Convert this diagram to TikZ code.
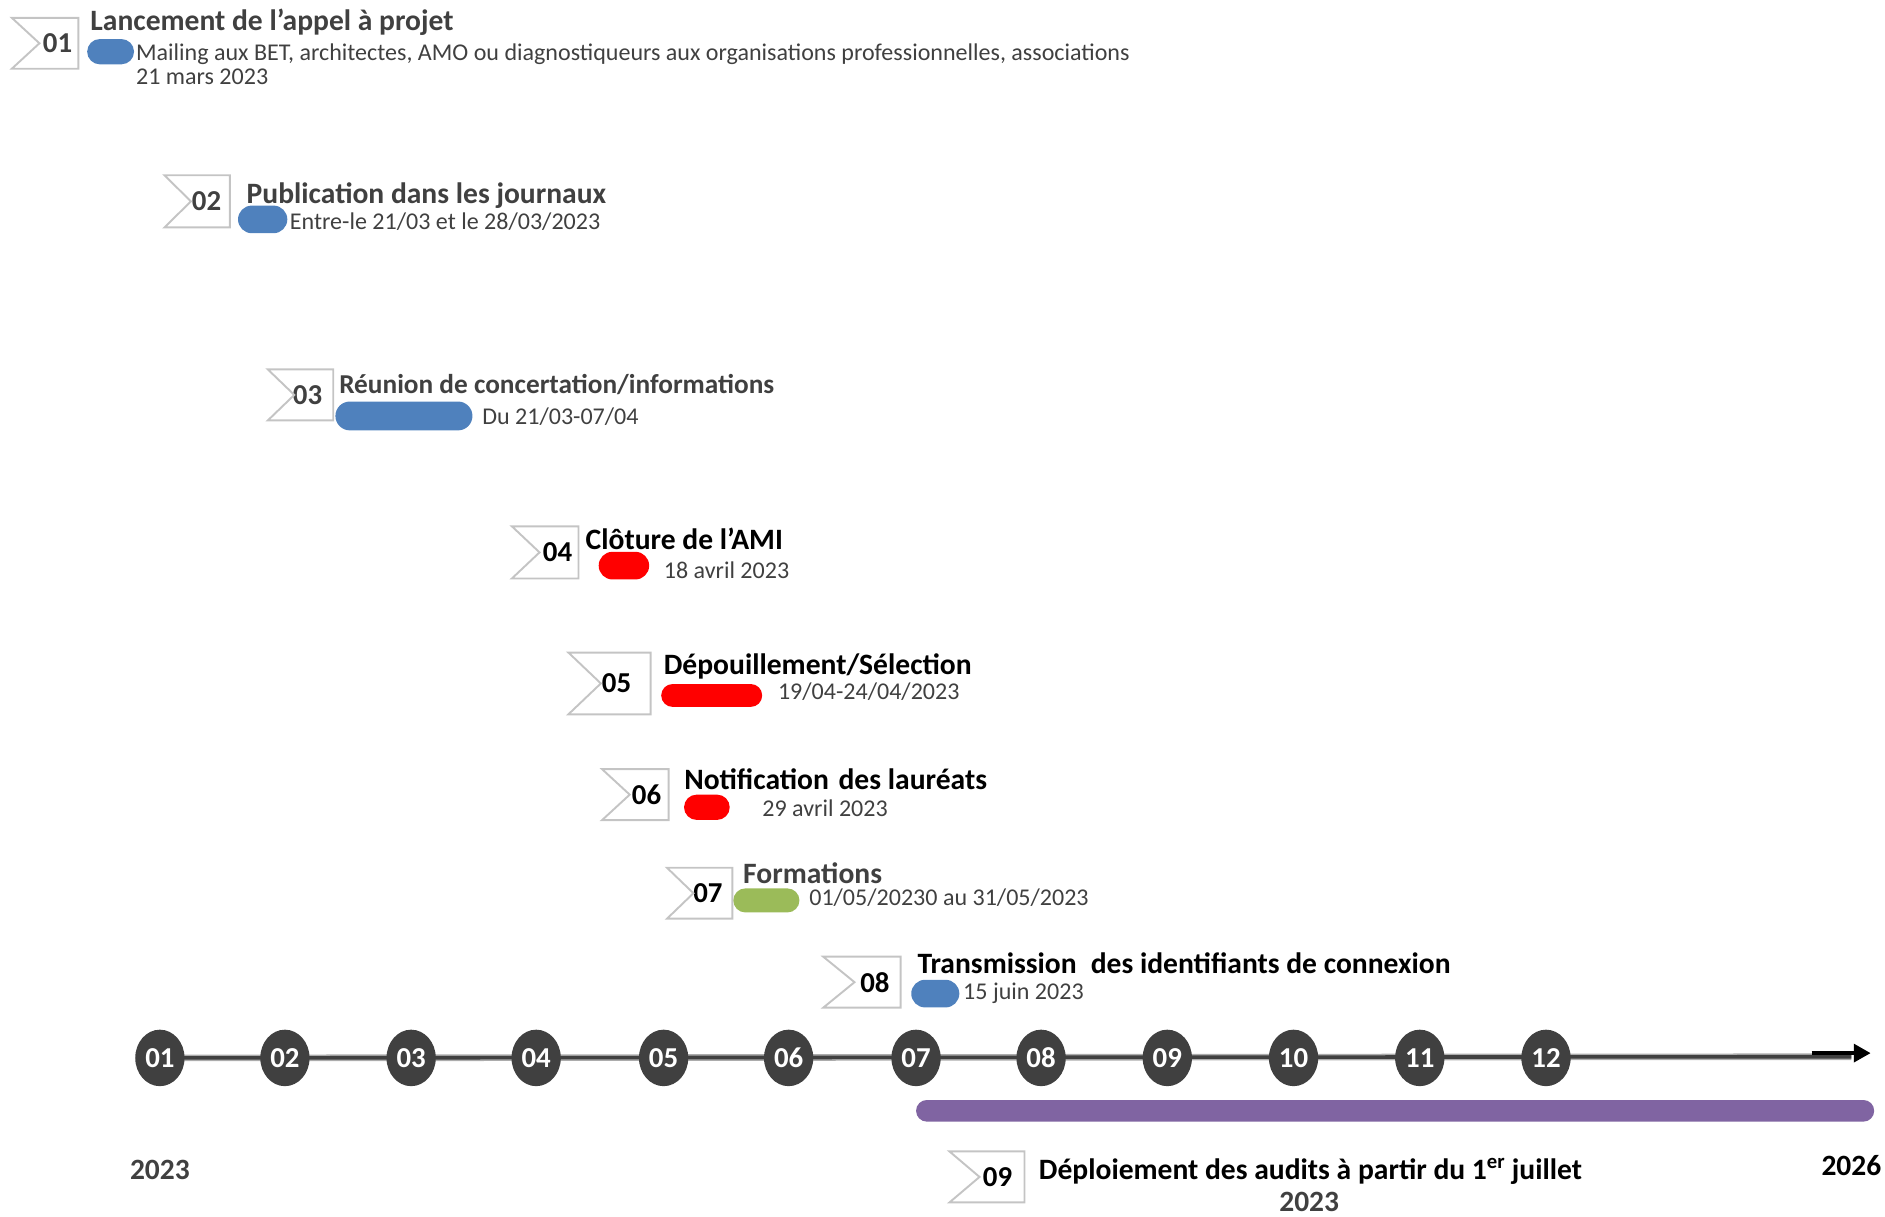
\documentclass[tikz,border=0pt]{standalone}
\usepackage{fontspec}
\setmainfont{Carlito}
\usetikzlibrary{shapes.geometric,shapes.misc,arrows.meta}
\definecolor{dk}{HTML}{404040}
\definecolor{pblue}{HTML}{4F81BD}
\definecolor{pred}{HTML}{FF0000}
\definecolor{pgreen}{HTML}{9BBB59}
\definecolor{ppurple}{HTML}{8064A2}
\definecolor{flg}{HTML}{C4C4C4}
\tikzset{
  ttl/.style={anchor=base west, inner sep=0pt, font=\bfseries\fontsize{24.6}{28}\selectfont},
  sub/.style={anchor=base west, inner sep=0pt, text=dk, font=\fontsize{20}{24}\selectfont},
  pill/.style={rounded rectangle, draw=none, inner sep=0pt},
  flagbox/.style={rectangle, draw=none, inner sep=0pt, align=right, font=\bfseries\fontsize{24}{24}\selectfont},
  flagline/.style={draw=flg, line width=1.6pt, line join=miter},
  tick/.style={ellipse, fill=dk, draw=none, inner sep=0pt, minimum width=41pt, minimum height=47pt, text=white, font=\bfseries\fontsize{24}{24}\selectfont},
  year/.style={anchor=base, inner sep=0pt, font=\bfseries\fontsize{24.5}{28}\selectfont}
}
\begin{document}
\begin{tikzpicture}[x=1pt,y=-1pt]
\useasboundingbox (0,0) rectangle (1568,1012);
% flags (minimum width = flag width, text width = width - 2*right offset)
\node[flagbox, text=dk, minimum height=42pt, minimum width=55pt, text width=45pt] (f1) at (37.5,36) {01};
\node[flagbox, text=dk, minimum height=43pt, minimum width=54pt, text width=40pt] (f2) at (164,167.5) {02};
\node[flagbox, text=dk, minimum height=42pt, minimum width=54pt, text width=36pt] (f3) at (250,328.5) {03};
\node[flagbox, text=black, minimum height=43pt, minimum width=55pt, text width=45pt] (f4) at (453.5,459.5) {04};
\node[flagbox, text=black, minimum height=51pt, minimum width=68pt, text width=36pt] (f5) at (507,568.5) {05};
\node[flagbox, text=black, minimum height=42pt, minimum width=55pt, text width=43pt] (f6) at (528.5,661) {06};
\node[flagbox, text=black, minimum height=42pt, minimum width=54pt, text width=38pt] (f7) at (582,743) {07};
\node[flagbox, text=black, minimum height=42pt, minimum width=64pt, text width=46pt] (f8) at (717,817) {08};
\node[flagbox, text=black, minimum height=42pt, minimum width=62pt, text width=42pt] (f9) at (821,979) {09};
\foreach \f/\d in {f1/23,f2/22,f3/22,f4/23,f5/27,f6/23,f7/22,f8/26,f9/25}
  \draw[flagline] (\f.north west) -- (\f.north east) -- (\f.south east) -- (\f.south west) -- ([xshift=\d]\f.west) -- cycle;
% titles
\node[ttl, text=dk] (t1) at (75,25) {Lancement de l’appel à projet};
\node[ttl, text=dk] (t2) at (205,169) {Publication dans les journaux};
\node[ttl, text=dk, font=\bfseries\fontsize{22.7}{26}\selectfont] (t3) at (282,327) {Réunion de concertation/informations};
\node[ttl, text=black] (t4) at (487,457) {Clôture de l’AMI};
\node[ttl, text=black] (t5) at (552,561) {Dépouillement/Sélection};
\node[ttl, text=black] (t6) at (569,657) {Notification\hspace{0.1em} des lauréats};
\node[ttl, text=dk] (t7) at (618,735) {Formations};
\node[ttl, text=black] (t8) at (763,810) {Transmission\hspace{0.25em} des identifiants de connexion};
\node[ttl, text=black] (t9) at (864,981) {Déploiement des audits à partir du 1\textsuperscript{er} juillet};
\node[year, text=dk] (t9b) at (1089,1008) {2023};
% pills
\node[pill, fill=pblue, minimum width=39pt, minimum height=21pt] (p1) at (92,43) {};
\node[pill, fill=pblue, minimum width=41pt, minimum height=23pt] (p2) at (218.5,182.5) {};
\node[pill, fill=pblue, minimum width=114pt, minimum height=24pt] (p3) at (336,346) {};
\node[pill, fill=pred, minimum width=42pt, minimum height=23pt] (p4) at (519,470.5) {};
\node[pill, fill=pred, minimum width=84pt, minimum height=19pt] (p5) at (592,578.5) {};
\node[pill, fill=pred, minimum width=38pt, minimum height=21pt] (p6) at (588,671.5) {};
\node[pill, fill=pgreen, minimum width=55pt, minimum height=20pt] (p7) at (637.5,749) {};
\node[pill, fill=pblue, minimum width=40pt, minimum height=23pt] (p8) at (778,826.5) {};
\node[pill, fill=ppurple, minimum width=797pt, minimum height=18pt] (p9) at (1160.5,924) {};
% subtitles
\node[sub] (s1) at (113,50) {Mailing aux BET, architectes, AMO ou diagnostiqueurs aux organisations professionnelles, associations};
\node[sub] (s1b) at (113,70) {21 mars 2023};
\node[sub] (s2) at (241,191) {Entre-le 21/03 et le 28/03/2023};
\node[sub] (s3) at (401,353) {Du 21/03-07/04};
\node[sub] (s4) at (552,481) {18 avril 2023};
\node[sub] (s5) at (647,582) {19/04-24/04/2023};
\node[sub] (s6) at (634,679) {29 avril 2023};
\node[sub] (s7) at (673,753) {01/05/20230 au 31/05/2023};
\node[sub] (s8) at (801,831) {15 juin 2023};
% timeline
\coordinate (lineend) at (1540,879);
\coordinate (arrstart) at (1507,876);
\coordinate (arrend) at (1556,876);
\foreach \i/\x in {1/133,2/237,3/342,4/446,5/552,6/656,7/762,8/866,9/971,10/1076,11/1181,12/1286}
  \coordinate (c\i) at (\x,880);
\draw[line width=5.5pt, draw=gray!65] (c1) -- (lineend);
\draw[line width=3pt, draw=dk] (c1) -- (lineend);
\draw[line width=2.8pt, -{Stealth[length=14pt,width=15pt,inset=0pt]}] (arrstart) -- (arrend);
\foreach \i/\x in {1/133,2/237,3/342,4/446,5/552,6/656,7/762,8/866,9/971,10/1076,11/1181,12/1286}
  \node[tick] (m\i) at (c\i) {\ifnum\i<10 0\fi\i};
\node[year, text=dk] (y1) at (133,981) {2023};
\node[year, text=black] (y2) at (1540,978) {2026};
\end{tikzpicture}
\end{document}
